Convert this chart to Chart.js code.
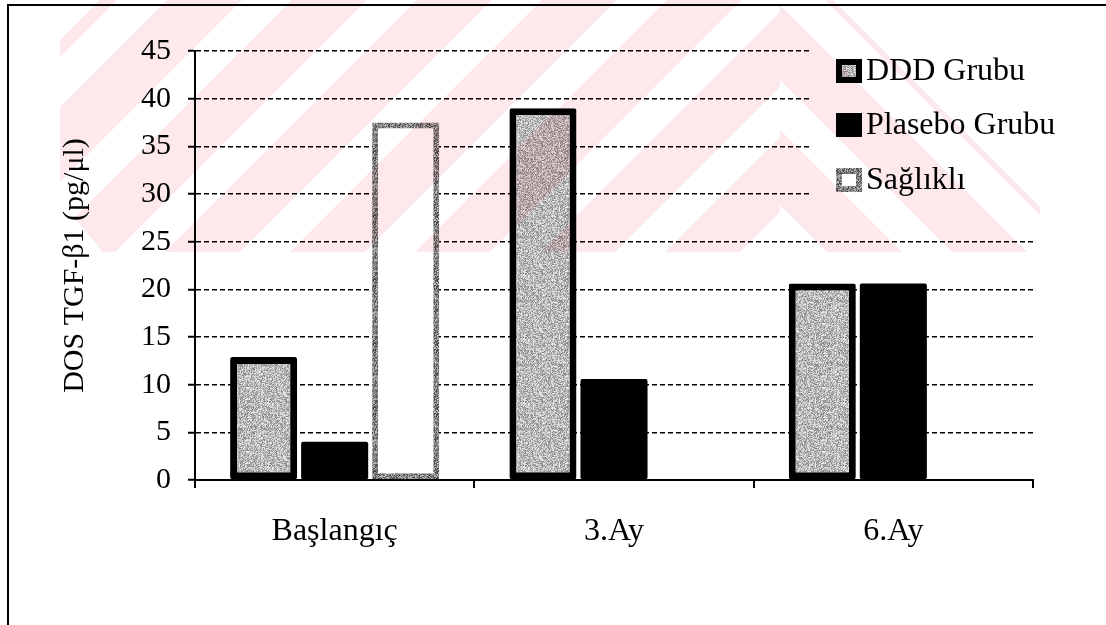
<!DOCTYPE html>
<html>
<head>
<meta charset="utf-8">
<script src="https://cdn.jsdelivr.net/npm/chart.js@4/dist/chart.umd.min.js"></script>
<style>
  html, body { margin: 0; padding: 0; background: #fff; }
  #wrap { width: 1106px; height: 625px; }
</style>
</head>
<body>
<div id="wrap"><canvas id="c" width="1106" height="625"></canvas></div>
<script>
// Categories, series and axis values
const categories = ['Başlangıç', '3.Ay', '6.Ay'];
const seriesNames = ['DDD Grubu', 'Plasebo Grubu', 'Sağlıklı'];
const dddValues = [12.9, 39.0, 20.6];
const plaseboValues = [4.0, 10.6, 20.6];
const saglikliValues = [37.5, null, null];
const yMin = 0;
const yMax = 45;
const yStep = 5;
const yTitle = 'DOS TGF-β1 (pg/μl)';

// Grainy grey fill, like a printed halftone
function stipple(lo, hi) {
  const n = 64;
  const c = document.createElement('canvas');
  c.width = n; c.height = n;
  const g = c.getContext('2d');
  const img = g.createImageData(n, n);
  for (let y = 0; y < n; y++) {
    for (let x = 0; x < n; x++) {
      let h = Math.imul(x, 374761393) + Math.imul(y, 668265263);
      h = Math.imul(h ^ (h >>> 13), 1274126177);
      h ^= h >>> 16;
      const t = (h & 255) / 255;
      const v = Math.round(lo + (hi - lo) * t);
      const i = (y * n + x) * 4;
      img.data[i] = v; img.data[i + 1] = v; img.data[i + 2] = v; img.data[i + 3] = 255;
    }
  }
  g.putImageData(img, 0, 0);
  return g.createPattern(c, 'repeat');
}

const lightGrain = stipple(130, 240);
const darkGrain = stipple(60, 200);

const serif = "'Liberation Serif', 'Times New Roman', serif";

// Page frame, opaque legend box and pale diagonal backdrop
const decor = {
  id: 'decor',
  beforeDraw(chart) {
    const ctx = chart.ctx;
    ctx.save();
    ctx.fillStyle = '#fff';
    ctx.fillRect(0, 0, chart.width, chart.height);
    ctx.strokeStyle = '#000';
    ctx.lineWidth = 2;
    ctx.beginPath();
    ctx.moveTo(8, chart.height);
    ctx.lineTo(8, 5);
    ctx.lineTo(chart.width, 5);
    ctx.stroke();
    ctx.restore();
  },
  afterDraw(chart) {
    const ctx = chart.ctx;
    // legend
    ctx.save();
    ctx.fillStyle = '#fff';
    ctx.fillRect(809, 30, 240, 195);
    const rowY = [71, 125, 180];
    chart.data.datasets.forEach((ds, i) => {
      const x = 836, y = rowY[i] - 12, w = 26, h = 24;
      ctx.fillStyle = ds.legendEdge;
      ctx.fillRect(x, y, w, h);
      ctx.fillStyle = ds.backgroundColor;
      ctx.fillRect(x + 6, y + 6, w - 12, h - 12);
      ctx.fillStyle = '#000';
      ctx.font = "32px " + serif;
      ctx.textBaseline = 'middle';
      ctx.textAlign = 'left';
      ctx.fillText(ds.label, 866, rowY[i] + 1);
    });
    ctx.restore();

    // pale pink diagonal backdrop, multiplied so dark ink stays dark
    ctx.save();
    ctx.globalCompositeOperation = 'multiply';
    ctx.fillStyle = '#fde8eb';
    ctx.beginPath();
    ctx.moveTo(100, 0);
    ctx.lineTo(833, 0);
    ctx.lineTo(1040, 207);
    ctx.lineTo(1040, 252);
    ctx.lineTo(103, 252);
    ctx.lineTo(60, 200);
    ctx.lineTo(60, 40);
    ctx.closePath();
    ctx.clip();
    // left part: "/" bands
    ctx.save();
    ctx.beginPath();
    ctx.rect(0, 0, 780, 252);
    ctx.clip();
    for (let k = -3; k < 9; k++) {
      const x0 = 40 + k * 125;
      ctx.beginPath();
      ctx.moveTo(x0, 252);
      ctx.lineTo(x0 + 75, 252);
      ctx.lineTo(x0 + 75 + 252, 0);
      ctx.lineTo(x0 + 252, 0);
      ctx.closePath();
      ctx.fill();
    }
    ctx.restore();
    // right part: "\" bands
    ctx.save();
    ctx.beginPath();
    ctx.rect(780, 0, 300, 252);
    ctx.clip();
    for (let k = -3; k < 6; k++) {
      const x0 = 700 + k * 125;
      ctx.beginPath();
      ctx.moveTo(x0, 0);
      ctx.lineTo(x0 + 75, 0);
      ctx.lineTo(x0 + 75 + 252, 252);
      ctx.lineTo(x0 + 252, 252);
      ctx.closePath();
      ctx.fill();
    }
    ctx.restore();
    ctx.restore();
  }
};

new Chart(document.getElementById('c'), {
  type: 'bar',
  data: {
    labels: categories,
    datasets: [
      {
        label: seriesNames[0], data: dddValues,
        backgroundColor: lightGrain, borderColor: '#000', legendEdge: '#000',
        borderWidth: 7, borderSkipped: false, borderRadius: 2
      },
      {
        label: seriesNames[1], data: plaseboValues,
        backgroundColor: '#000', borderColor: '#000', legendEdge: '#000',
        borderWidth: 0, borderSkipped: false, borderRadius: 2
      },
      {
        label: seriesNames[2], data: saglikliValues,
        backgroundColor: '#fff', borderColor: darkGrain, legendEdge: darkGrain,
        borderWidth: 6, borderSkipped: false, borderRadius: 1
      }
    ]
  },
  options: {
    responsive: false,
    animation: false,
    events: [],
    devicePixelRatio: 1,
    layout: { padding: { left: 0, top: 51, right: 73, bottom: 0 } },
    datasets: { bar: { categoryPercentage: 0.763, barPercentage: 0.944 } },
    plugins: { legend: { display: false }, tooltip: { enabled: false } },
    scales: {
      x: {
        grid: { offset: true, drawOnChartArea: false, tickLength: 8, color: '#000', lineWidth: 2 },
        border: { color: '#000', width: 2 },
        ticks: { color: '#000', font: { family: serif, size: 32 }, padding: 24 },
        afterFit(scale) { scale.height = 145; }
      },
      y: {
        min: yMin, max: yMax,
        ticks: { stepSize: yStep, color: '#000', font: { family: serif, size: 30 }, padding: 17 },
        grid: { color: '#000', lineWidth: 1.5, tickLength: 7, tickColor: '#000', tickWidth: 2, tickBorderDash: [] },
        border: { display: true, color: '#000', width: 2, dash: [5, 3] },
        title: {
          display: true, text: yTitle, color: '#000',
          font: { family: serif, size: 30 }, padding: { top: 57, bottom: 0 }
        },
        afterFit(scale) { scale.width = 195; }
      }
    }
  },
  plugins: [decor]
});
</script>
</body>
</html>
